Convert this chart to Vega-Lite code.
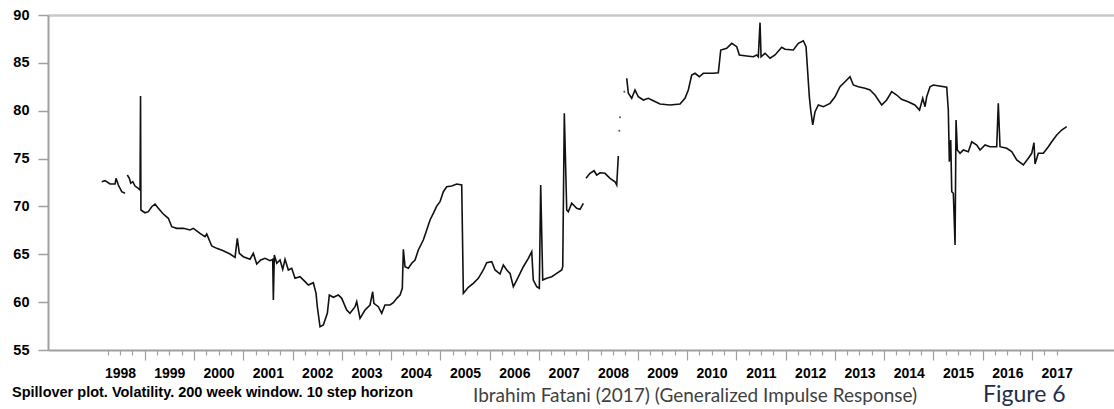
{
  "$schema": "https://vega.github.io/schema/vega-lite/v6.json",
  "width": 1066,
  "height": 335,
  "autosize": {"type": "none"},
  "padding": {"left": 48, "top": 15, "right": 0, "bottom": 59},
  "background": "white",
  "config": {"view": {"stroke": null}, "font": "Liberation Sans"},
  "data": {"values": [
    {"t": 1998.130, "v": 72.58, "s": "a"},
    {"t": 1998.197, "v": 72.69, "s": "a"},
    {"t": 1998.298, "v": 72.34, "s": "a"},
    {"t": 1998.400, "v": 72.34, "s": "a"},
    {"t": 1998.420, "v": 72.94, "s": "a"},
    {"t": 1998.467, "v": 72.24, "s": "a"},
    {"t": 1998.536, "v": 71.54, "s": "a"},
    {"t": 1998.602, "v": 71.37, "s": "a"},
    {"t": 1998.649, "v": 73.28, "s": "b"},
    {"t": 1998.690, "v": 72.94, "s": "b"},
    {"t": 1998.718, "v": 72.42, "s": "b"},
    {"t": 1998.759, "v": 72.58, "s": "b"},
    {"t": 1998.805, "v": 72.13, "s": "b"},
    {"t": 1998.872, "v": 71.89, "s": "b"},
    {"t": 1998.907, "v": 71.72, "s": "b"},
    {"t": 1998.917, "v": 81.54, "s": "b"},
    {"t": 1998.925, "v": 69.63, "s": "b"},
    {"t": 1999.008, "v": 69.34, "s": "b"},
    {"t": 1999.075, "v": 69.45, "s": "b"},
    {"t": 1999.144, "v": 69.97, "s": "b"},
    {"t": 1999.211, "v": 70.25, "s": "b"},
    {"t": 1999.278, "v": 69.80, "s": "b"},
    {"t": 1999.379, "v": 69.21, "s": "b"},
    {"t": 1999.481, "v": 68.76, "s": "b"},
    {"t": 1999.550, "v": 67.88, "s": "b"},
    {"t": 1999.651, "v": 67.71, "s": "b"},
    {"t": 1999.785, "v": 67.71, "s": "b"},
    {"t": 1999.921, "v": 67.54, "s": "b"},
    {"t": 1999.988, "v": 67.71, "s": "b"},
    {"t": 2000.124, "v": 67.19, "s": "b"},
    {"t": 2000.225, "v": 66.84, "s": "b"},
    {"t": 2000.260, "v": 67.12, "s": "b"},
    {"t": 2000.361, "v": 65.87, "s": "b"},
    {"t": 2000.463, "v": 65.62, "s": "b"},
    {"t": 2000.596, "v": 65.37, "s": "b"},
    {"t": 2000.732, "v": 65.03, "s": "b"},
    {"t": 2000.834, "v": 64.68, "s": "b"},
    {"t": 2000.880, "v": 66.67, "s": "b"},
    {"t": 2000.921, "v": 65.10, "s": "b"},
    {"t": 2001.002, "v": 64.75, "s": "b"},
    {"t": 2001.138, "v": 64.48, "s": "b"},
    {"t": 2001.205, "v": 65.10, "s": "b"},
    {"t": 2001.274, "v": 63.98, "s": "b"},
    {"t": 2001.355, "v": 64.40, "s": "b"},
    {"t": 2001.442, "v": 64.58, "s": "b"},
    {"t": 2001.544, "v": 64.33, "s": "b"},
    {"t": 2001.598, "v": 64.48, "s": "b"},
    {"t": 2001.611, "v": 60.22, "s": "b"},
    {"t": 2001.631, "v": 64.92, "s": "b"},
    {"t": 2001.680, "v": 64.06, "s": "b"},
    {"t": 2001.747, "v": 64.40, "s": "b"},
    {"t": 2001.801, "v": 63.43, "s": "b"},
    {"t": 2001.848, "v": 64.48, "s": "b"},
    {"t": 2001.915, "v": 63.36, "s": "b"},
    {"t": 2001.984, "v": 63.54, "s": "b"},
    {"t": 2002.051, "v": 62.49, "s": "b"},
    {"t": 2002.152, "v": 62.66, "s": "b"},
    {"t": 2002.254, "v": 62.14, "s": "b"},
    {"t": 2002.321, "v": 61.79, "s": "b"},
    {"t": 2002.422, "v": 62.03, "s": "b"},
    {"t": 2002.477, "v": 60.92, "s": "b"},
    {"t": 2002.503, "v": 59.52, "s": "b"},
    {"t": 2002.558, "v": 57.43, "s": "b"},
    {"t": 2002.625, "v": 57.61, "s": "b"},
    {"t": 2002.706, "v": 58.83, "s": "b"},
    {"t": 2002.747, "v": 60.75, "s": "b"},
    {"t": 2002.828, "v": 60.51, "s": "b"},
    {"t": 2002.929, "v": 60.75, "s": "b"},
    {"t": 2002.998, "v": 60.40, "s": "b"},
    {"t": 2003.099, "v": 59.18, "s": "b"},
    {"t": 2003.166, "v": 58.83, "s": "b"},
    {"t": 2003.268, "v": 59.52, "s": "b"},
    {"t": 2003.302, "v": 60.05, "s": "b"},
    {"t": 2003.369, "v": 58.31, "s": "b"},
    {"t": 2003.471, "v": 59.18, "s": "b"},
    {"t": 2003.572, "v": 59.70, "s": "b"},
    {"t": 2003.626, "v": 61.09, "s": "b"},
    {"t": 2003.650, "v": 59.88, "s": "b"},
    {"t": 2003.740, "v": 59.52, "s": "b"},
    {"t": 2003.809, "v": 58.83, "s": "b"},
    {"t": 2003.876, "v": 59.70, "s": "b"},
    {"t": 2003.977, "v": 59.70, "s": "b"},
    {"t": 2004.045, "v": 59.94, "s": "b"},
    {"t": 2004.114, "v": 60.40, "s": "b"},
    {"t": 2004.181, "v": 60.75, "s": "b"},
    {"t": 2004.227, "v": 61.45, "s": "b"},
    {"t": 2004.248, "v": 65.52, "s": "b"},
    {"t": 2004.282, "v": 63.70, "s": "b"},
    {"t": 2004.349, "v": 63.54, "s": "b"},
    {"t": 2004.418, "v": 64.06, "s": "b"},
    {"t": 2004.485, "v": 64.40, "s": "b"},
    {"t": 2004.552, "v": 65.45, "s": "b"},
    {"t": 2004.653, "v": 66.49, "s": "b"},
    {"t": 2004.722, "v": 67.54, "s": "b"},
    {"t": 2004.789, "v": 68.58, "s": "b"},
    {"t": 2004.856, "v": 69.28, "s": "b"},
    {"t": 2004.925, "v": 70.04, "s": "b"},
    {"t": 2004.992, "v": 70.49, "s": "b"},
    {"t": 2005.059, "v": 71.54, "s": "b"},
    {"t": 2005.128, "v": 72.06, "s": "b"},
    {"t": 2005.229, "v": 72.13, "s": "b"},
    {"t": 2005.331, "v": 72.34, "s": "b"},
    {"t": 2005.432, "v": 72.24, "s": "b"},
    {"t": 2005.465, "v": 60.92, "s": "b"},
    {"t": 2005.566, "v": 61.55, "s": "b"},
    {"t": 2005.667, "v": 61.97, "s": "b"},
    {"t": 2005.769, "v": 62.49, "s": "b"},
    {"t": 2005.870, "v": 63.36, "s": "b"},
    {"t": 2005.939, "v": 64.12, "s": "b"},
    {"t": 2006.041, "v": 64.22, "s": "b"},
    {"t": 2006.108, "v": 63.36, "s": "b"},
    {"t": 2006.209, "v": 62.94, "s": "b"},
    {"t": 2006.276, "v": 63.88, "s": "b"},
    {"t": 2006.345, "v": 63.36, "s": "b"},
    {"t": 2006.412, "v": 63.01, "s": "b"},
    {"t": 2006.479, "v": 61.61, "s": "b"},
    {"t": 2006.548, "v": 62.31, "s": "b"},
    {"t": 2006.615, "v": 63.01, "s": "b"},
    {"t": 2006.682, "v": 63.70, "s": "b"},
    {"t": 2006.783, "v": 64.58, "s": "b"},
    {"t": 2006.852, "v": 65.27, "s": "b"},
    {"t": 2006.884, "v": 62.31, "s": "b"},
    {"t": 2006.953, "v": 61.61, "s": "b"},
    {"t": 2007.006, "v": 61.45, "s": "b"},
    {"t": 2007.034, "v": 72.24, "s": "b"},
    {"t": 2007.075, "v": 62.31, "s": "b"},
    {"t": 2007.156, "v": 62.49, "s": "b"},
    {"t": 2007.258, "v": 62.66, "s": "b"},
    {"t": 2007.359, "v": 63.01, "s": "b"},
    {"t": 2007.460, "v": 63.36, "s": "b"},
    {"t": 2007.481, "v": 63.70, "s": "b"},
    {"t": 2007.513, "v": 79.73, "s": "b"},
    {"t": 2007.562, "v": 69.63, "s": "b"},
    {"t": 2007.594, "v": 69.45, "s": "b"},
    {"t": 2007.663, "v": 70.33, "s": "b"},
    {"t": 2007.765, "v": 69.80, "s": "b"},
    {"t": 2007.832, "v": 69.70, "s": "b"},
    {"t": 2007.899, "v": 70.33, "s": "b"},
    {"t": 2007.953, "v": 72.94, "s": "c"},
    {"t": 2008.034, "v": 73.46, "s": "c"},
    {"t": 2008.116, "v": 73.73, "s": "c"},
    {"t": 2008.170, "v": 73.28, "s": "c"},
    {"t": 2008.237, "v": 73.52, "s": "c"},
    {"t": 2008.339, "v": 73.46, "s": "c"},
    {"t": 2008.440, "v": 72.94, "s": "c"},
    {"t": 2008.542, "v": 72.58, "s": "c"},
    {"t": 2008.576, "v": 72.24, "s": "c"},
    {"t": 2008.608, "v": 75.27, "s": "c"},
    {"t": 2008.629, "v": 77.91, "s": "dot"},
    {"t": 2008.643, "v": 79.31, "s": "dot"},
    {"t": 2008.730, "v": 81.99, "s": "dot"},
    {"t": 2008.779, "v": 83.39, "s": "d"},
    {"t": 2008.812, "v": 81.82, "s": "d"},
    {"t": 2008.880, "v": 81.30, "s": "d"},
    {"t": 2008.947, "v": 82.16, "s": "d"},
    {"t": 2009.014, "v": 81.46, "s": "d"},
    {"t": 2009.116, "v": 81.12, "s": "d"},
    {"t": 2009.217, "v": 81.30, "s": "d"},
    {"t": 2009.318, "v": 81.05, "s": "d"},
    {"t": 2009.454, "v": 80.70, "s": "d"},
    {"t": 2009.657, "v": 80.60, "s": "d"},
    {"t": 2009.860, "v": 80.70, "s": "d"},
    {"t": 2009.961, "v": 81.30, "s": "d"},
    {"t": 2010.028, "v": 82.16, "s": "d"},
    {"t": 2010.097, "v": 83.73, "s": "d"},
    {"t": 2010.164, "v": 83.91, "s": "d"},
    {"t": 2010.251, "v": 83.55, "s": "d"},
    {"t": 2010.332, "v": 83.91, "s": "d"},
    {"t": 2010.535, "v": 83.91, "s": "d"},
    {"t": 2010.637, "v": 83.97, "s": "d"},
    {"t": 2010.686, "v": 86.34, "s": "d"},
    {"t": 2010.807, "v": 86.52, "s": "d"},
    {"t": 2010.909, "v": 87.04, "s": "d"},
    {"t": 2011.010, "v": 86.69, "s": "d"},
    {"t": 2011.063, "v": 85.82, "s": "d"},
    {"t": 2011.213, "v": 85.72, "s": "d"},
    {"t": 2011.347, "v": 85.64, "s": "d"},
    {"t": 2011.416, "v": 85.82, "s": "d"},
    {"t": 2011.448, "v": 85.64, "s": "d"},
    {"t": 2011.483, "v": 89.20, "s": "d"},
    {"t": 2011.504, "v": 85.64, "s": "d"},
    {"t": 2011.585, "v": 86.00, "s": "d"},
    {"t": 2011.686, "v": 85.48, "s": "d"},
    {"t": 2011.787, "v": 85.82, "s": "d"},
    {"t": 2011.923, "v": 86.63, "s": "d"},
    {"t": 2011.990, "v": 86.42, "s": "d"},
    {"t": 2012.158, "v": 86.34, "s": "d"},
    {"t": 2012.260, "v": 87.04, "s": "d"},
    {"t": 2012.361, "v": 87.31, "s": "d"},
    {"t": 2012.416, "v": 86.69, "s": "d"},
    {"t": 2012.483, "v": 81.46, "s": "d"},
    {"t": 2012.511, "v": 80.07, "s": "d"},
    {"t": 2012.552, "v": 78.51, "s": "d"},
    {"t": 2012.599, "v": 79.90, "s": "d"},
    {"t": 2012.666, "v": 80.60, "s": "d"},
    {"t": 2012.767, "v": 80.42, "s": "d"},
    {"t": 2012.903, "v": 80.77, "s": "d"},
    {"t": 2013.004, "v": 81.46, "s": "d"},
    {"t": 2013.105, "v": 82.51, "s": "d"},
    {"t": 2013.207, "v": 83.03, "s": "d"},
    {"t": 2013.308, "v": 83.55, "s": "d"},
    {"t": 2013.375, "v": 82.69, "s": "d"},
    {"t": 2013.477, "v": 82.51, "s": "d"},
    {"t": 2013.612, "v": 82.34, "s": "d"},
    {"t": 2013.714, "v": 82.16, "s": "d"},
    {"t": 2013.815, "v": 81.64, "s": "d"},
    {"t": 2013.951, "v": 80.60, "s": "d"},
    {"t": 2014.052, "v": 81.12, "s": "d"},
    {"t": 2014.154, "v": 81.99, "s": "d"},
    {"t": 2014.255, "v": 81.64, "s": "d"},
    {"t": 2014.353, "v": 81.19, "s": "d"},
    {"t": 2014.487, "v": 80.94, "s": "d"},
    {"t": 2014.623, "v": 80.60, "s": "d"},
    {"t": 2014.718, "v": 80.07, "s": "d"},
    {"t": 2014.783, "v": 81.30, "s": "d"},
    {"t": 2014.830, "v": 80.42, "s": "d"},
    {"t": 2014.864, "v": 81.46, "s": "d"},
    {"t": 2014.931, "v": 82.51, "s": "d"},
    {"t": 2014.998, "v": 82.69, "s": "d"},
    {"t": 2015.270, "v": 82.45, "s": "d"},
    {"t": 2015.302, "v": 80.07, "s": "d"},
    {"t": 2015.323, "v": 74.67, "s": "d"},
    {"t": 2015.351, "v": 76.94, "s": "d"},
    {"t": 2015.372, "v": 71.54, "s": "d"},
    {"t": 2015.404, "v": 71.37, "s": "d"},
    {"t": 2015.439, "v": 65.97, "s": "d"},
    {"t": 2015.459, "v": 79.03, "s": "d"},
    {"t": 2015.485, "v": 75.90, "s": "d"},
    {"t": 2015.540, "v": 75.55, "s": "d"},
    {"t": 2015.607, "v": 75.90, "s": "d"},
    {"t": 2015.708, "v": 75.72, "s": "d"},
    {"t": 2015.777, "v": 76.76, "s": "d"},
    {"t": 2015.879, "v": 76.42, "s": "d"},
    {"t": 2015.946, "v": 75.90, "s": "d"},
    {"t": 2016.047, "v": 76.42, "s": "d"},
    {"t": 2016.148, "v": 76.24, "s": "d"},
    {"t": 2016.284, "v": 76.24, "s": "d"},
    {"t": 2016.316, "v": 80.77, "s": "d"},
    {"t": 2016.351, "v": 76.24, "s": "d"},
    {"t": 2016.487, "v": 76.07, "s": "d"},
    {"t": 2016.588, "v": 75.72, "s": "d"},
    {"t": 2016.690, "v": 74.85, "s": "d"},
    {"t": 2016.824, "v": 74.33, "s": "d"},
    {"t": 2016.925, "v": 75.03, "s": "d"},
    {"t": 2016.994, "v": 75.55, "s": "d"},
    {"t": 2017.040, "v": 76.66, "s": "d"},
    {"t": 2017.061, "v": 74.43, "s": "d"},
    {"t": 2017.128, "v": 75.55, "s": "d"},
    {"t": 2017.229, "v": 75.55, "s": "d"},
    {"t": 2017.331, "v": 76.24, "s": "d"},
    {"t": 2017.400, "v": 76.76, "s": "d"},
    {"t": 2017.501, "v": 77.46, "s": "d"},
    {"t": 2017.602, "v": 77.98, "s": "d"},
    {"t": 2017.704, "v": 78.33, "s": "d"}
  ]},
  "layer": [
    {
      "transform": [{"filter": "datum.s !== 'dot'"}],
      "mark": {"type": "line", "color": "#111111", "strokeWidth": 1.6, "clip": true},
      "encoding": {
        "x": {
          "field": "t", "type": "quantitative",
          "scale": {"domain": [1997.04, 2018.663], "nice": false, "zero": false},
          "axis": {
            "title": null,
            "grid": false,
            "tickCount": 500,
            "values": [1998.25, 1998.5, 1998.75, 1999, 1999.25, 1999.5, 1999.75, 2000, 2000.25, 2000.5, 2000.75, 2001, 2001.25, 2001.5, 2001.75, 2002, 2002.25, 2002.5, 2002.75, 2003, 2003.25, 2003.5, 2003.75, 2004, 2004.25, 2004.5, 2004.75, 2005, 2005.25, 2005.5, 2005.75, 2006, 2006.25, 2006.5, 2006.75, 2007, 2007.25, 2007.5, 2007.75, 2008, 2008.25, 2008.5, 2008.75, 2009, 2009.25, 2009.5, 2009.75, 2010, 2010.25, 2010.5, 2010.75, 2011, 2011.25, 2011.5, 2011.75, 2012, 2012.25, 2012.5, 2012.75, 2013, 2013.25, 2013.5, 2013.75, 2014, 2014.25, 2014.5, 2014.75, 2015, 2015.25, 2015.5, 2015.75, 2016, 2016.25, 2016.5, 2016.75, 2017, 2017.25, 2017.5],
            "labelExpr": "datum.value % 1 === 0.5 ? '' + floor(datum.value) : ''",
            "labelOverlap": false,
            "labelFlush": false,
            "labelFont": "Liberation Sans",
            "labelFontSize": 14,
            "labelFontWeight": "bold",
            "labelColor": "#000000",
            "labelPadding": 11,
            "domainColor": "#a0a0a0",
            "domainWidth": 2,
            "tickColor": "#a0a0a0",
            "tickWidth": 1.2,
            "tickSize": {"condition": {"test": "datum.value % 1 === 0", "value": 10}, "value": 5}
          }
        },
        "y": {
          "field": "v", "type": "quantitative",
          "scale": {"domain": [55, 90], "nice": false, "zero": false},
          "axis": {
            "title": null,
            "values": [55, 60, 65, 70, 75, 80, 85, 90],
            "format": "d",
            "grid": true,
            "gridColor": "#c8c8c8",
            "gridWidth": 2.5,
            "gridOpacity": {"condition": {"test": "datum.value === 90", "value": 1}, "value": 0},
            "labelFont": "Liberation Sans",
            "labelFontSize": 14.5,
            "labelFontWeight": "bold",
            "labelColor": "#000000",
            "labelPadding": 9,
            "domainColor": "#a0a0a0",
            "domainWidth": 2,
            "tickColor": "#a0a0a0",
            "tickWidth": 1.5,
            "tickSize": 10
          }
        },
        "detail": {"field": "s"}
      }
    },
    {
      "transform": [{"filter": "datum.s === 'dot'"}],
      "mark": {"type": "circle", "color": "#555555", "size": 4, "opacity": 1},
      "encoding": {
        "x": {"field": "t", "type": "quantitative"},
        "y": {"field": "v", "type": "quantitative"}
      }
    },
    {
      "data": {"values": [{"label": "Spillover plot. Volatility. 200 week window. 10 step horizon"}]},
      "mark": {"type": "text", "align": "left", "baseline": "alphabetic", "font": "Liberation Sans", "fontSize": 14.5, "fontWeight": "bold", "color": "#000000"},
      "encoding": {
        "x": {"datum": 1996.31, "type": "quantitative"},
        "y": {"datum": 50.1, "type": "quantitative"},
        "text": {"field": "label"}
      }
    },
    {
      "data": {"values": [{"label": "Ibrahim Fatani (2017) (Generalized Impulse Response)"}]},
      "mark": {"type": "text", "align": "left", "baseline": "alphabetic", "font": "Lato", "fontSize": 19, "color": "#404040"},
      "encoding": {
        "x": {"datum": 2005.661, "type": "quantitative"},
        "y": {"datum": 49.57, "type": "quantitative"},
        "text": {"field": "label"}
      }
    },
    {
      "data": {"values": [{"label": "Figure 6"}]},
      "mark": {"type": "text", "align": "left", "baseline": "alphabetic", "font": "Lato", "fontSize": 23, "color": "#1f2d4a"},
      "encoding": {
        "x": {"datum": 2016.006, "type": "quantitative"},
        "y": {"datum": 49.57, "type": "quantitative"},
        "text": {"field": "label"}
      }
    }
  ]
}
